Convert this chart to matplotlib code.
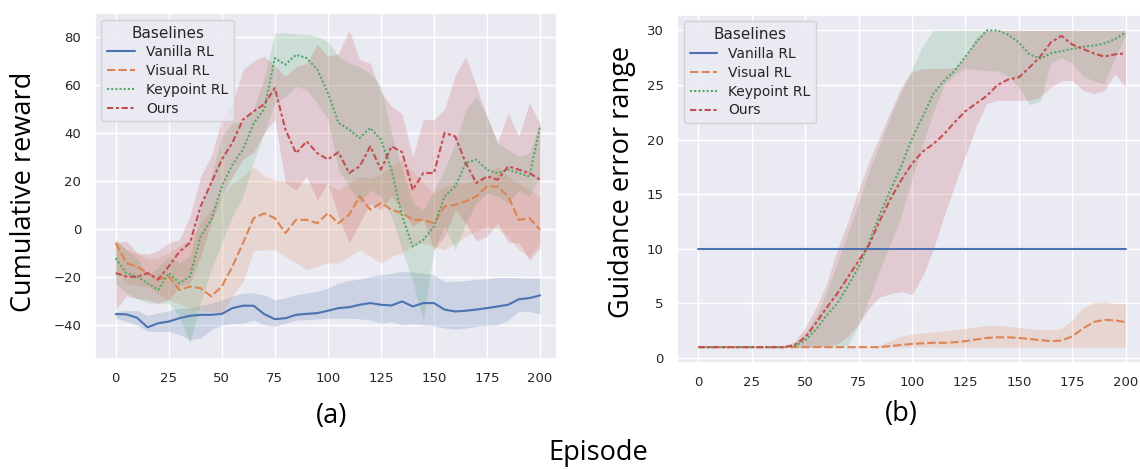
import numpy as np
import matplotlib
matplotlib.use("Agg")
import matplotlib.pyplot as plt
import seaborn as sns

# episodes sampled every 5
episodes = np.arange(0, 201, 5)

# ---------- (a) cumulative reward ----------
vanilla_r = [-35.5, -35.6, -37.0, -41.0, -39.3, -38.6, -37.2, -36.2, -35.8, -35.8,
             -35.4, -33.0, -32.0, -32.0, -35.5, -37.6, -37.2, -35.8, -35.4, -35.1,
             -34.1, -33.0, -32.6, -31.6, -30.9, -31.6, -31.9, -30.2, -32.3, -30.9,
             -30.9, -33.6, -34.4, -34.1, -33.6, -33.0, -32.3, -31.6, -29.3, -28.8, -27.7]
vanilla_r_hi = [-34.4, -34.0, -34.0, -36.0, -35.0, -34.0, -33.0, -33.0, -32.0, -31.0,
                -29.5, -28.0, -26.7, -26.7, -27.5, -29.5, -28.8, -27.4, -26.7, -26.0,
                -24.7, -22.6, -21.5, -20.9, -19.8, -19.1, -18.5, -17.7, -18.0, -18.5,
                -19.1, -21.9, -21.9, -21.5, -21.0, -20.8, -20.2, -20.3, -20.4, -20.5, -20.5]
vanilla_r_lo = [-37.2, -38.5, -40.0, -42.7, -42.7, -42.7, -44.0, -46.2, -45.5, -42.0,
                -40.0, -39.5, -39.3, -38.0, -40.0, -40.6, -39.3, -37.9, -37.9, -37.5,
                -37.2, -37.2, -37.2, -37.5, -37.9, -39.3, -38.6, -40.0, -39.5, -40.0,
                -40.4, -41.3, -41.8, -41.3, -40.6, -40.3, -40.0, -38.0, -34.4, -34.4, -35.4]

visual_r = [-5.9, -14.2, -15.6, -18.4, -21.2, -19.8, -25.4, -24.0, -24.7, -28.1,
            -24.0, -15.6, -5.9, 4.5, 6.5, 4.5, -1.7, 3.8, 3.8, 2.4,
            6.6, 2.4, 5.9, 13.6, 8.0, 10.8, 8.0, 6.6, 3.8, 3.8,
            2.4, 9.4, 10.1, 11.5, 13.6, 17.7, 17.7, 13.6, 3.8, 4.5, -0.3]
visual_r_hi = [-4.5, -8.7, -10.0, -12.8, -12.0, -10.0, -7.0, -4.5, 2.4, 8.0,
               13.6, 19.1, 21.9, 26.0, 22.0, 20.5, 20.0, 19.5, 19.1, 19.1,
               18.5, 16.3, 19.0, 21.9, 21.0, 23.0, 26.1, 28.8, 24.0, 19.1,
               15.0, 17.7, 19.0, 19.1, 20.5, 21.9, 26.1, 21.9, 19.1, 16.3, 13.6]
visual_r_lo = [-17.0, -22.6, -23.5, -24.0, -27.0, -29.5, -31.0, -33.6, -34.0, -34.5,
               -35.0, -28.1, -22.0, -9.0, -8.7, -8.7, -11.5, -14.2, -17.0, -15.6,
               -14.2, -14.2, -11.5, -8.7, -11.5, -14.2, -11.5, -10.0, -7.0, -5.9,
               -7.3, -8.7, -6.0, -3.1, -1.0, 1.0, 0.0, -3.1, -8.7, -11.5, -5.9]

keypoint_r = [-12.2, -18.4, -19.8, -22.6, -25.4, -18.4, -22.6, -19.8, -3.1, 3.8,
              17.7, 26.8, 33.1, 44.0, 50.0, 71.2, 68.5, 72.6, 71.2, 66.4,
              56.7, 44.2, 41.4, 37.9, 42.1, 37.2, 24.7, 5.2, -7.3, -4.5,
              1.0, 13.6, 17.7, 27.5, 28.9, 24.7, 23.3, 24.7, 23.3, 21.9, 42.8]
keypoint_r_hi = [-4.5, -8.7, -12.0, -19.0, -16.0, -11.5, -14.2, -11.5, 8.0, 21.9,
                 38.6, 44.1, 45.0, 50.0, 63.0, 81.7, 81.7, 81.3, 81.0, 80.3,
                 78.0, 71.9, 69.2, 67.5, 65.0, 59.4, 40.0, 25.0, 10.8, 8.0,
                 16.0, 24.7, 35.8, 49.7, 55.3, 46.9, 35.8, 33.0, 30.3, 31.6, 44.0]
keypoint_r_lo = [-22.6, -26.7, -29.0, -30.9, -31.0, -30.9, -36.5, -47.6, -30.9, -17.0,
                 -5.9, 5.2, 13.6, 28.0, 40.0, 52.5, 55.0, 59.4, 58.0, 52.5,
                 45.6, 24.7, 17.7, 10.8, 16.3, 13.6, 5.2, -8.7, -22.0, -37.9,
                 -8.7, 1.1, -8.7, 2.4, 10.8, 15.0, 13.6, 10.8, 16.3, 13.6, 21.9]

ours_r = [-18.4, -19.8, -20.0, -18.4, -21.0, -15.6, -9.5, -5.8, 9.4, 19.1,
          28.9, 36.0, 45.6, 49.0, 52.0, 58.7, 41.4, 31.6, 36.5, 31.6,
          29.0, 32.0, 23.3, 26.1, 34.4, 24.7, 34.4, 32.0, 16.3, 23.3,
          23.3, 40.0, 38.6, 27.5, 19.1, 21.9, 20.5, 26.1, 24.7, 23.3, 20.5]
ours_r_hi = [-5.8, -5.0, -10.0, -10.5, -9.0, -5.8, -4.5, 5.2, 21.9, 30.3,
             45.6, 52.5, 66.4, 70.0, 72.0, 68.0, 63.6, 67.6, 69.0, 77.0,
             72.0, 73.0, 83.0, 70.5, 69.0, 57.0, 51.1, 48.0, 30.0, 45.6,
             45.6, 50.0, 63.9, 72.0, 59.4, 47.0, 36.0, 48.3, 38.6, 52.5, 44.0]
ours_r_lo = [-33.6, -28.0, -29.0, -29.5, -30.9, -29.5, -24.0, -22.6, -11.5, 2.4,
             13.6, 21.9, 29.0, 32.0, 40.0, 45.6, 19.1, 16.3, 22.0, 12.0,
             19.1, 5.2, -5.8, 2.4, 10.8, 8.0, 13.6, 8.0, 1.1, 3.8,
             -8.7, -3.1, 8.0, 2.4, -5.0, -3.1, 2.4, -5.8, -5.8, -13.0, -8.0]

# ---------- (b) guidance error range ----------
vanilla_e = [10.0] * len(episodes)

visual_e = [1.0, 1.0, 1.0, 1.0, 1.0, 1.0, 1.0, 1.0, 1.0, 1.0,
            1.0, 1.0, 1.0, 1.0, 1.0, 1.0, 1.0, 1.0, 1.1, 1.2,
            1.3, 1.35, 1.4, 1.4, 1.45, 1.55, 1.7, 1.85, 1.9, 1.9,
            1.85, 1.75, 1.65, 1.55, 1.6, 2.0, 2.7, 3.3, 3.5, 3.45, 3.3]
visual_e_hi = [1.0, 1.0, 1.0, 1.0, 1.0, 1.0, 1.0, 1.0, 1.0, 1.0,
               1.0, 1.0, 1.0, 1.0, 1.0, 1.0, 1.0, 1.2, 1.6, 2.0,
               2.2, 2.3, 2.4, 2.5, 2.6, 2.7, 2.85, 3.0, 3.0, 2.9,
               2.8, 2.7, 2.6, 2.6, 2.7, 3.5, 4.6, 5.1, 5.2, 5.0, 5.0]
visual_e_lo = [1.0] * len(episodes)

keypoint_e = [1.0, 1.0, 1.0, 1.0, 1.0, 1.0, 1.0, 1.0, 1.0, 1.1,
              1.6, 2.6, 3.9, 5.0, 6.6, 8.3, 10.6, 13.2, 15.4, 17.6,
              20.1, 22.1, 24.2, 25.4, 26.3, 27.6, 28.9, 30.0, 30.0, 29.6,
              28.9, 27.8, 27.4, 27.9, 28.1, 28.3, 28.5, 28.6, 28.8, 29.2, 29.8]
keypoint_e_hi = [1.0, 1.0, 1.0, 1.0, 1.0, 1.0, 1.0, 1.0, 1.0, 1.3,
                 2.3, 3.8, 6.0, 8.7, 11.5, 14.2, 17.2, 19.6, 22.2, 24.4,
                 26.5, 28.6, 30.0, 30.0, 30.0, 30.0, 30.0, 30.0, 30.0, 30.0,
                 30.0, 30.0, 30.0, 30.0, 30.0, 30.0, 30.0, 30.0, 30.0, 30.0, 30.0]
keypoint_e_lo = [1.0, 1.0, 1.0, 1.0, 1.0, 1.0, 1.0, 1.0, 1.0, 1.0,
                 1.0, 1.0, 1.0, 1.0, 1.2, 3.0, 5.5, 8.1, 10.5, 13.0,
                 16.5, 19.5, 22.5, 25.0, 26.0, 26.5, 26.4, 26.3, 26.3, 25.8,
                 24.8, 23.2, 23.5, 27.0, 27.5, 27.0, 25.8, 25.4, 25.1, 27.5, 29.5]

ours_e = [1.0, 1.0, 1.0, 1.0, 1.0, 1.0, 1.0, 1.0, 1.0, 1.2,
          1.9, 3.2, 4.6, 5.9, 7.4, 8.9, 10.4, 12.6, 14.6, 16.3,
          17.8, 18.9, 19.6, 20.5, 21.6, 22.6, 23.3, 24.0, 25.0, 25.5,
          25.7, 26.6, 27.6, 28.9, 29.5, 28.7, 28.3, 27.9, 27.6, 27.8, 27.9]
ours_e_hi = [1.0, 1.0, 1.0, 1.0, 1.0, 1.0, 1.0, 1.0, 1.0, 1.5,
             2.8, 4.6, 6.8, 9.9, 12.5, 15.4, 18.1, 20.3, 22.6, 24.8,
             26.2, 26.5, 26.5, 26.5, 26.6, 27.6, 29.3, 30.0, 30.0, 30.0,
             30.0, 30.0, 30.0, 30.0, 30.0, 30.0, 30.0, 30.0, 30.0, 30.0, 30.0]
ours_e_lo = [1.0, 1.0, 1.0, 1.0, 1.0, 1.0, 1.0, 1.0, 1.0, 1.0,
             1.0, 1.0, 1.1, 1.3, 2.0, 3.1, 4.6, 5.6, 5.9, 6.1,
             5.8, 7.5, 10.0, 13.0, 15.8, 18.5, 21.2, 23.3, 23.6, 23.6,
             23.6, 23.6, 23.9, 24.8, 25.4, 25.4, 24.5, 24.2, 24.5, 26.0, 24.8]

names = ["Vanilla RL", "Visual RL", "Keypoint RL", "Ours"]

sns.set_theme(style="darkgrid")
plt.rcParams['font.family'] = ['DejaVu Sans']
colors = sns.color_palette("deep")[:4]
dash_list = [None, (4, 1.5), (1, 1), (3, 1.25, 1.5, 1.25)]

fig = plt.figure(figsize=(11.4, 4.69), dpi=100)
W, H = 1140, 469
ax1 = fig.add_axes([94.5 / W, 1 - 358.5 / H, 462.5 / W, 345.5 / H])
ax2 = fig.add_axes([677 / W, 1 - 363 / H, 470 / W, 348.5 / H])


def draw(ax, series):
    for (m, lo, hi), name, c, d in zip(series, names, colors, dash_list):
        line, = ax.plot(episodes, m, color=c, lw=1.5, label=name)
        if d is not None:
            line.set_dashes(d)
        ax.fill_between(episodes, lo, hi, color=c, alpha=0.2, lw=0)
    ax.set_xticks(range(0, 201, 25))
    ax.tick_params(labelsize=9.5, labelcolor='.15')
    leg = ax.legend(title="Baselines", loc="upper left", fontsize=10,
                    title_fontsize=11, labelspacing=0.35)


draw(ax1, [(vanilla_r, vanilla_r_lo, vanilla_r_hi),
           (visual_r, visual_r_lo, visual_r_hi),
           (keypoint_r, keypoint_r_lo, keypoint_r_hi),
           (ours_r, ours_r_lo, ours_r_hi)])
ax1.set_xlim(-10, 208)
ax1.set_ylim(-54, 90)
ax1.set_yticks(range(-40, 81, 20))

draw(ax2, [(vanilla_e, vanilla_e, vanilla_e),
           (visual_e, visual_e_lo, visual_e_hi),
           (keypoint_e, keypoint_e_lo, keypoint_e_hi),
           (ours_e, ours_e_lo, ours_e_hi)])
ax2.set_xlim(-10, 210)
ax2.set_ylim(-0.45, 31.45)
ax2.set_yticks(range(0, 31, 5))

big = dict(family='Open Sans', fontsize=19.5, color='black', ha='center', va='center')
fig.text(24 / W, 1 - 192 / H, "Cumulative reward", rotation=90, **big)
fig.text(621.7 / W, 1 - 181.5 / H, "Guidance error range", rotation=90, **big)
fig.text(332 / W, 1 - 416 / H, "(a)", **big)
fig.text(901 / W, 1 - 414 / H, "(b)", **big)
fig.text(598 / W, 1 - 453 / H, "Episode", **big)

fig.savefig("out.png", dpi=100)
